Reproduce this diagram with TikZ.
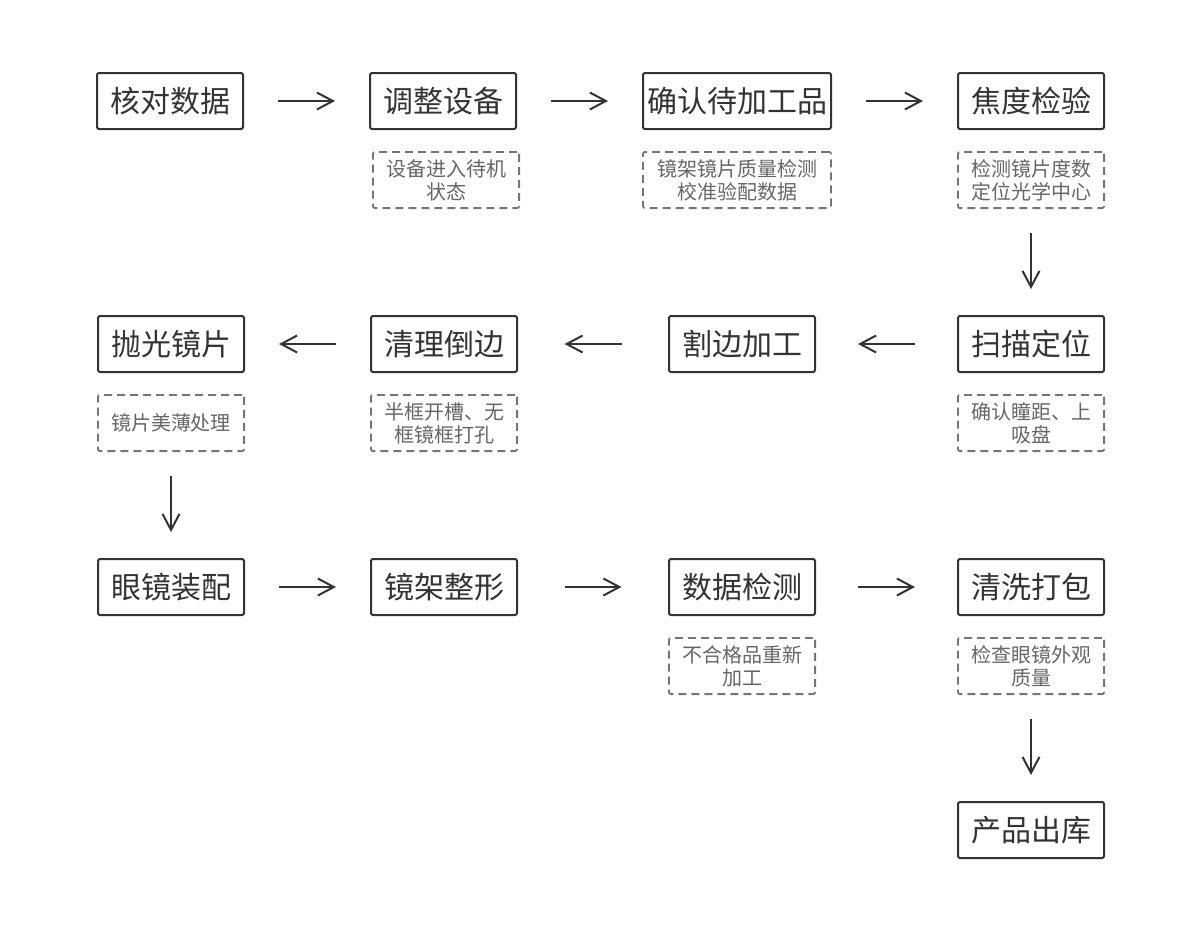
\documentclass[tikz,border=0pt]{standalone}
\usepackage{fontspec}
\setmainfont{Noto Sans CJK SC}
\usetikzlibrary{arrows.meta,positioning}
\definecolor{ink}{HTML}{333333}
\definecolor{hint}{HTML}{666666}
\tikzset{
  >={Straight Barb[length=8pt,width=8.5pt]},
  stepbox/.style={draw=ink,line width=1pt,rounded corners=1pt,minimum width=73pt,minimum height=28pt,inner sep=2pt,font=\fontsize{15}{18}\selectfont,text=ink},
  notebox/.style={draw=hint!90,line width=0.9pt,dash pattern=on 4pt off 2.5pt,rounded corners=1pt,minimum width=73.1pt,minimum height=28.1pt,inner sep=1pt,align=center,font=\fontsize{10}{11.5}\selectfont,text=hint},
  flow/.style={->,line width=1pt,draw=ink},
  gapA/.style={shorten <=17pt,shorten >=17pt},
  gapB/.style={shorten <=23.25pt,shorten >=23.25pt},
  gapC/.style={shorten <=21pt,shorten >=21pt},
  gapV/.style={shorten <=12pt,shorten >=13pt},
}
\begin{document}
\begin{tikzpicture}[node distance=10.5pt and 62.5pt]
\useasboundingbox (0,0) rectangle (600pt,-475pt);

% row 1
\node[stepbox] (hedui) at (85pt,-50.5pt) {核对数据};
\node[stepbox,right=of hedui] (tiaozheng) {调整设备};
\node[stepbox,minimum width=93.5pt,right=of tiaozheng] (queren) {确认待加工品};
\node[stepbox,right=of queren] (jiaodu) {焦度检验};

\node[notebox,below=of tiaozheng,xshift=1.5pt] (n_tiaozheng) {设备进入待机\\状态};
\node[notebox,minimum width=94pt,below=of queren] (n_queren) {镜架镜片质量检测\\校准验配数据};
\node[notebox,below=of jiaodu] (n_jiaodu) {检测镜片度数\\定位光学中心};

% row 2
\node[stepbox,below=53pt of n_jiaodu] (saomiao) {扫描定位};
\node[stepbox,left=70.5pt of saomiao] (gebian) {割边加工};
\node[stepbox,left=75pt of gebian] (qingli) {清理倒边};
\node[stepbox,left=of qingli] (paoguang) {抛光镜片};

\node[notebox,below=of saomiao] (n_saomiao) {确认瞳距、上\\吸盘};
\node[notebox,below=of qingli] (n_qingli) {半框开槽、无\\框镜框打孔};
\node[notebox,below=of paoguang] (n_paoguang) {镜片美薄处理};

% row 3
\node[stepbox,below=53pt of n_paoguang] (zhuangpei) {眼镜装配};
\node[stepbox,right=of zhuangpei] (zhengxing) {镜架整形};
\node[stepbox,right=75pt of zhengxing] (jiance) {数据检测};
\node[stepbox,right=70.5pt of jiance] (qingxi) {清洗打包};

\node[notebox,below=of jiance] (n_jiance) {不合格品重新\\加工};
\node[notebox,below=of qingxi] (n_qingxi) {检查眼镜外观\\质量};

% row 4
\node[stepbox,below=53pt of n_qingxi] (chuku) {产品出库};

% connectors
\draw[flow,gapA] (hedui) -- (tiaozheng);
\draw[flow,gapA] (tiaozheng) -- (queren);
\draw[flow,gapA] (queren) -- (jiaodu);
\draw[flow,gapV] (n_jiaodu) -- (saomiao);
\draw[flow,gapC] (saomiao) -- (gebian);
\draw[flow,gapB] (gebian) -- (qingli);
\draw[flow,gapA] (qingli) -- (paoguang);
\draw[flow,gapV] (n_paoguang) -- (zhuangpei);
\draw[flow,gapA] (zhuangpei) -- (zhengxing);
\draw[flow,gapB] (zhengxing) -- (jiance);
\draw[flow,gapC] (jiance) -- (qingxi);
\draw[flow,gapV] (n_qingxi) -- (chuku);

\end{tikzpicture}
\end{document}
